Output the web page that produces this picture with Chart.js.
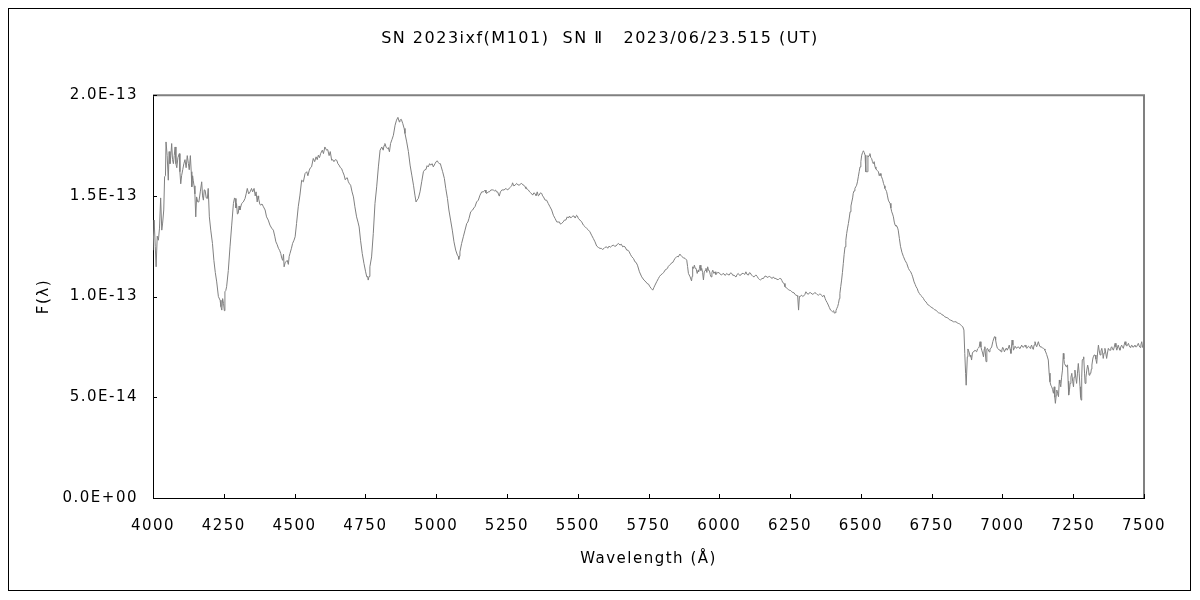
<!DOCTYPE html>
<html>
<head>
<meta charset="utf-8">
<script src="https://cdn.jsdelivr.net/npm/chart.js@4"></script>
<style>
html,body{margin:0;padding:0;background:#fff;}
#wrap{width:1200px;height:600px;}
</style>
</head>
<body>
<div id="wrap"><canvas id="c" width="1200" height="600"></canvas></div>
<script>
// ---- data (flux in units of 1E-13) ----
const chartTitle = 'SN 2023ixf(M101)  SN \u2161   2023/06/23.515 (UT)';
const xTitle = 'Wavelength (\u00C5)';
const yTitle = 'F(\u03BB)';
const xRange = [4000, 7500];
const xStep = 250;
const yRange = [0, 2.0e-13];
const yStep = 5.0e-14;
const fluxUnit = 1e-13;

const specBlue = [
[4000,1.23],[4004,1.38],[4008,1.25],[4011,1.148],[4015,1.30],[4019,1.28],[4023,1.34],[4027,1.49],[4031,1.33],[4034,1.365],
[4038,1.43],[4041,1.595],[4044,1.60],[4046,1.768],[4050,1.70],[4054,1.578],[4057,1.72],[4060,1.66],[4063,1.70],[4066,1.76],
[4069,1.68],[4072,1.66],[4075,1.70],[4078,1.743],[4081,1.66],[4084,1.64],[4088,1.69],[4093,1.71],[4095,1.62],[4098,1.56],
[4101,1.60],[4105,1.63],[4109,1.66],[4113,1.68],[4117,1.64],[4121,1.70],[4125,1.66],[4128,1.63],[4132,1.70],[4135,1.62],
[4137,1.545],[4140,1.60],[4142,1.578],[4145,1.55],[4148,1.51],[4151,1.396],[4154,1.495],[4158,1.47],[4162,1.47],[4167,1.52],
[4172,1.57],[4175,1.50],[4178,1.479],[4181,1.53],[4184,1.528],[4188,1.49],[4192,1.487],[4195,1.537],[4199,1.396],[4204,1.33],
[4210,1.264],[4215,1.18],[4220,1.12],[4225,1.073],[4231,1.00],[4237,0.982],[4240,0.95],[4243,0.933],[4246,0.99],[4249,0.966],
[4252,0.93],[4254,1.024],[4257,1.03],[4260,1.049],[4266,1.13],[4272,1.247],[4278,1.355],[4284,1.462],[4288,1.49],[4290,1.487],
[4293,1.44],[4295,1.462],[4298,1.41],[4301,1.413],[4304,1.45],[4307,1.43],[4313,1.462],[4319,1.47],[4325,1.487],[4329,1.51],
[4333,1.537],[4338,1.51],[4343,1.52],[4348,1.537],[4352,1.52],[4357,1.537],[4361,1.50],[4364,1.52],[4368,1.47],[4371,1.50],
[4373,1.487],[4377,1.46],[4380,1.454],[4385,1.46],[4390,1.446],[4396,1.43],[4401,1.396],[4407,1.38],[4413,1.355],[4419,1.34],
[4425,1.33],[4430,1.30],[4434,1.272],[4438,1.26],[4443,1.24],[4447,1.23],[4451,1.215],[4455,1.19],[4458,1.18],[4461,1.21],
[4463,1.148],[4467,1.17],[4470,1.173],[4474,1.18],[4478,1.16],[4481,1.20],[4484,1.215],[4489,1.24],[4493,1.264],[4498,1.28],
[4502,1.297],[4507,1.363],[4513,1.446],[4519,1.504],[4525,1.578],[4531,1.57],[4537,1.611],[4543,1.62],[4547,1.60],[4552,1.628],
[4556,1.64],[4560,1.644],[4566,1.686],[4571,1.67],[4576,1.694],[4580,1.68],[4584,1.702],[4588,1.69],[4592,1.71],[4598,1.727],
[4602,1.71],[4607,1.743],[4613,1.727],[4617,1.73],[4622,1.70],[4626,1.72],[4631,1.677],[4635,1.68],[4639,1.67],[4644,1.68],
[4649,1.677],[4653,1.66],[4657,1.653],[4662,1.64],[4666,1.636],[4670,1.62],[4675,1.603],[4679,1.58],[4682,1.587],[4686,1.59],
[4690,1.57],[4694,1.56],[4698,1.553],[4703,1.52],[4708,1.495],[4713,1.446],[4719,1.396],[4724,1.37],[4728,1.346],[4733,1.28],
[4739,1.214],[4745,1.165],[4751,1.123],[4755,1.098],[4758,1.10],[4760,1.082],[4763,1.10],[4766,1.148],[4772,1.197],[4778,1.314],
[4784,1.462],[4790,1.545],[4796,1.644],[4802,1.727],[4808,1.743],[4813,1.727],[4816,1.75],[4819,1.76],[4824,1.74],[4828,1.735],
[4831,1.74],[4835,1.719],[4839,1.76],[4844,1.78],[4849,1.801],[4855,1.851],[4860,1.876],[4865,1.89],[4870,1.867]
];

const specGreen = [
[4872,1.876],[4877,1.88],[4882,1.86],[4887,1.835],[4890,1.81],[4896,1.768],[4902,1.72],[4908,1.653],[4914,1.603],[4920,1.553],
[4925,1.504],[4929,1.47],[4933,1.48],[4937,1.487],[4943,1.52],[4949,1.57],[4955,1.62],[4960,1.63],[4964,1.631],[4968,1.65],
[4972,1.644],[4977,1.66],[4981,1.653],[4986,1.66],[4990,1.644],[4996,1.66],[5000,1.67],[5004,1.674],[5008,1.665],[5011,1.66],
[5015,1.66],[5018,1.644],[5023,1.62],[5029,1.587],[5034,1.537],[5040,1.487],[5045,1.43],[5051,1.38],[5057,1.33],[5063,1.272],
[5069,1.231],[5075,1.206],[5078,1.20],[5080,1.185],[5082,1.20],[5084,1.222],[5090,1.264],[5096,1.297],[5102,1.33],[5108,1.363],
[5112,1.37],[5116,1.388],[5122,1.421],[5129,1.43],[5133,1.44],[5137,1.446],[5143,1.47],[5149,1.479],[5155,1.504],[5161,1.52],
[5167,1.52],[5173,1.529],[5176,1.515],[5179,1.512],[5184,1.52],[5188,1.52],[5193,1.529],[5198,1.53],[5202,1.529],[5206,1.525],
[5210,1.529],[5213,1.52],[5217,1.52],[5223,1.499],[5227,1.52],[5232,1.529],[5236,1.53],[5240,1.529],[5244,1.535],[5247,1.537],
[5251,1.53],[5255,1.532],[5259,1.54],[5263,1.545],[5267,1.55],[5270,1.565],[5274,1.55],[5279,1.553],[5284,1.562],[5289,1.555],
[5294,1.553],[5298,1.56],[5302,1.562],[5306,1.555],[5310,1.553],[5314,1.545],[5317,1.537],[5321,1.535],[5326,1.529],[5330,1.52],
[5334,1.515],[5338,1.51],[5341,1.504],[5345,1.515],[5349,1.512],[5353,1.50],[5357,1.52],[5361,1.50],[5364,1.504],[5368,1.515],
[5373,1.512],[5376,1.50],[5379,1.495],[5385,1.479],[5390,1.479],[5396,1.462],[5402,1.446],[5408,1.43],[5414,1.404],[5420,1.388],
[5426,1.371],[5431,1.37],[5435,1.371],[5439,1.36],[5443,1.363],[5449,1.371],[5453,1.38],[5458,1.38],[5463,1.396],[5467,1.39],
[5471,1.40],[5475,1.39],[5479,1.396],[5483,1.40],[5487,1.40],[5491,1.39],[5496,1.404],[5499,1.40],[5502,1.388],[5508,1.38],
[5514,1.371],[5520,1.355],[5526,1.347],[5532,1.338],[5538,1.33],[5543,1.322],[5549,1.305],[5555,1.289],[5561,1.272],[5567,1.251],
[5573,1.244],[5579,1.239],[5583,1.24],[5587,1.234],[5593,1.239],[5597,1.245],[5602,1.247],[5606,1.24],[5611,1.251],[5615,1.245],
[5620,1.251],[5626,1.256],[5630,1.25],[5635,1.251],[5640,1.26],[5644,1.264],[5649,1.256],[5654,1.26],[5659,1.247],[5663,1.25],
[5667,1.247],[5673,1.231],[5678,1.23],[5682,1.222],[5686,1.21],[5691,1.198],[5697,1.189],[5702,1.173],[5706,1.17],[5711,1.156],
[5718,1.123],[5726,1.098],[5734,1.082],[5741,1.073],[5745,1.065],[5750,1.062]
];

const specYellow = [
[5755,1.049],[5760,1.04],[5765,1.032],[5769,1.045],[5773,1.057],[5779,1.074],[5785,1.09],[5789,1.10],[5793,1.107],[5800,1.115],
[5804,1.12],[5808,1.131],[5812,1.135],[5817,1.14],[5820,1.15],[5824,1.156],[5828,1.16],[5832,1.168],[5836,1.17],[5840,1.181],
[5844,1.19],[5847,1.19],[5851,1.20],[5855,1.197],[5861,1.211],[5864,1.205],[5867,1.20],[5873,1.193],[5879,1.19],[5885,1.181],
[5888,1.15],[5891,1.115],[5897,1.098],[5902,1.078],[5904,1.10],[5906,1.148],[5909,1.14],[5912,1.156],[5915,1.14],[5918,1.14],
[5922,1.115],[5925,1.13],[5927,1.123],[5930,1.14],[5932,1.156],[5935,1.13],[5938,1.14],[5941,1.12],[5944,1.083],[5947,1.123],
[5950,1.13],[5953,1.14],[5956,1.12],[5959,1.148],[5962,1.13],[5965,1.129],[5968,1.11],[5971,1.098],[5974,1.12],[5977,1.131],
[5981,1.115],[5985,1.123],[5988,1.11],[5991,1.115],[5995,1.12],[6000,1.118],[6004,1.11],[6008,1.107],[6013,1.115],[6017,1.112],
[6021,1.105],[6026,1.115],[6030,1.11],[6035,1.107],[6040,1.118],[6044,1.115],[6048,1.105],[6052,1.107],[6056,1.10],[6059,1.098],
[6063,1.11],[6067,1.115],[6072,1.105],[6076,1.107],[6080,1.115],[6085,1.115],[6090,1.11],[6094,1.123],[6098,1.11],[6103,1.107],
[6106,1.118],[6109,1.118],[6114,1.107],[6119,1.10],[6123,1.098],[6127,1.105],[6130,1.107],[6134,1.10],[6138,1.09],[6142,1.085],
[6146,1.083],[6151,1.09],[6156,1.09],[6160,1.10],[6165,1.102],[6169,1.095],[6173,1.098],[6178,1.10],[6182,1.095],[6187,1.09],
[6191,1.098],[6195,1.09],[6200,1.09],[6204,1.085],[6209,1.085],[6213,1.09],[6217,1.09],[6221,1.08],[6224,1.07],[6229,1.065],
[6232,1.049],[6236,1.045],[6240,1.04],[6244,1.035],[6247,1.032],[6252,1.03],[6256,1.024],[6260,1.02],[6264,1.019],[6268,1.01],
[6271,1.007],[6275,1.005],[6277,1.00],[6280,0.933],[6283,1.00],[6285,0.999],[6288,1.005],[6291,1.007],[6295,1.00],[6297,1.002],
[6302,1.01],[6306,1.024],[6310,1.015],[6315,1.012],[6319,1.02],[6323,1.019],[6328,1.012],[6332,1.012],[6337,1.02],[6342,1.016],
[6346,1.01],[6350,1.007],[6354,1.012],[6358,1.012],[6362,1.005],[6365,0.999],[6368,1.005],[6370,1.007],[6374,0.99],[6377,0.98],
[6381,0.97],[6385,0.958],[6389,0.945],[6393,0.933],[6396,0.93],[6400,0.925],[6404,0.93],[6406,0.918],[6409,0.92],[6412,0.93],
[6415,0.941],[6418,0.95],[6421,0.966],[6424,0.99],[6426,1.016],[6429,1.05],[6432,1.082],[6435,1.12],[6438,1.165],[6441,1.21],
[6444,1.247],[6447,1.28],[6450,1.314],[6453,1.34],[6456,1.363],[6459,1.39],[6462,1.421],[6465,1.45],[6468,1.47],[6471,1.49],
[6473,1.512],[6476,1.525],[6479,1.537],[6482,1.545],[6485,1.553],[6488,1.57],[6491,1.595],[6494,1.62],[6497,1.644],[6500,1.67],
[6503,1.702],[6506,1.715],[6509,1.724],[6512,1.715],[6515,1.702],[6517,1.70],[6518,1.62],[6521,1.62],[6523,1.62],[6525,1.70],
[6526,1.694],[6529,1.70],[6532,1.71],[6535,1.69],[6538,1.686],[6541,1.67],[6544,1.66],[6547,1.67],[6550,1.644],[6553,1.635],
[6556,1.628],[6559,1.625],[6562,1.62],[6565,1.60],[6568,1.611],[6571,1.60],[6573,1.595],[6577,1.58],[6580,1.562],[6583,1.55],
[6585,1.537],[6588,1.53],[6591,1.521],[6594,1.50],[6597,1.479],[6600,1.47],[6603,1.463],[6606,1.44],[6609,1.421],[6612,1.41],
[6615,1.396],[6618,1.37],[6621,1.355],[6624,1.35],[6627,1.35],[6630,1.34],[6632,1.33],[6636,1.289],[6640,1.25],[6645,1.22],
[6650,1.20],[6656,1.18]
];

const specRed = [
[6662,1.165],[6668,1.14],[6672,1.13],[6676,1.123],[6680,1.11],[6683,1.098],[6688,1.073],[6692,1.06],[6695,1.049],[6699,1.04],
[6703,1.024],[6707,1.015],[6711,1.007],[6716,1.00],[6721,0.991],[6725,0.98],[6730,0.974],[6734,0.965],[6738,0.958],[6742,0.955],
[6747,0.949],[6751,0.945],[6756,0.941],[6760,0.935],[6765,0.933],[6770,0.925],[6774,0.92],[6778,0.918],[6782,0.917],[6786,0.91],
[6791,0.908],[6796,0.90],[6801,0.897],[6805,0.895],[6809,0.892],[6813,0.885],[6817,0.883],[6822,0.88],[6827,0.875],[6831,0.875],
[6836,0.875],[6840,0.87],[6844,0.867],[6848,0.865],[6853,0.859],[6856,0.855],[6860,0.85],[6864,0.834],[6867,0.718],[6870,0.618],
[6872,0.56],[6874,0.56],[6876,0.701],[6878,0.74],[6880,0.734],[6883,0.72],[6886,0.701],[6888,0.71],[6891,0.685],[6894,0.72],
[6897,0.726],[6900,0.73],[6903,0.734],[6906,0.73],[6909,0.726],[6912,0.74],[6915,0.744],[6918,0.75],[6921,0.776],[6924,0.75],
[6927,0.734],[6930,0.72],[6933,0.701],[6936,0.74],[6938,0.751],[6942,0.677],[6945,0.74],[6947,0.743],[6950,0.735],[6953,0.726],
[6956,0.74],[6959,0.743],[6962,0.75],[6966,0.776],[6969,0.79],[6972,0.801],[6974,0.80],[6976,0.784],[6979,0.76],[6982,0.744],
[6986,0.74],[6989,0.734],[6992,0.735],[6995,0.726],[6998,0.735],[7001,0.748],[7004,0.74],[7007,0.726],[7010,0.735],[7013,0.743],
[7015,0.74],[7017,0.734],[7021,0.745],[7024,0.759],[7027,0.74],[7030,0.718],[7032,0.75],[7034,0.784],[7037,0.76],[7039,0.734],
[7042,0.745],[7044,0.754],[7047,0.75],[7050,0.743],[7053,0.748],[7056,0.751],[7059,0.745],[7062,0.743],[7065,0.75],[7068,0.759],
[7071,0.75],[7074,0.748],[7077,0.755],[7080,0.759],[7083,0.75],[7086,0.743],[7089,0.75],[7092,0.754],[7095,0.748],[7098,0.743],
[7100,0.75],[7103,0.759],[7106,0.745],[7109,0.738],[7112,0.76],[7115,0.776],[7118,0.76],[7121,0.751],[7124,0.765],[7127,0.776],
[7130,0.76],[7133,0.751],[7136,0.75],[7139,0.748],[7142,0.745],[7145,0.743],[7148,0.74],[7150,0.734],[7153,0.725],[7156,0.713],
[7159,0.70],[7162,0.685],[7165,0.62],[7168,0.577],[7171,0.56],[7174,0.552],[7177,0.54],[7180,0.52],[7183,0.552],[7185,0.50],
[7187,0.47],[7190,0.51],[7192,0.536],[7195,0.52],[7198,0.503],[7201,0.586],[7203,0.57],[7206,0.552],[7209,0.60],[7212,0.635],
[7215,0.718],[7217,0.69],[7219,0.668],[7222,0.66],[7225,0.652],[7228,0.66],[7230,0.66],[7232,0.58],[7234,0.511],[7237,0.54],
[7239,0.569],[7242,0.60],[7245,0.619],[7248,0.58],[7251,0.552],[7253,0.60],[7256,0.635],[7259,0.60],[7262,0.569],[7265,0.62],
[7268,0.668],[7271,0.62],[7274,0.552],[7276,0.50],[7278,0.486],[7280,0.60],[7282,0.685],[7285,0.69],[7287,0.701],[7290,0.62],
[7292,0.569],[7295,0.60],[7298,0.635],[7301,0.66],[7304,0.64],[7306,0.61],[7309,0.62],[7312,0.619],[7314,0.64],[7316,0.66],
[7319,0.69],[7321,0.701],[7324,0.71],[7327,0.71],[7330,0.69],[7333,0.668],[7336,0.72],[7339,0.759],[7342,0.73],[7345,0.71],
[7348,0.73],[7351,0.743],[7354,0.72],[7356,0.693],[7359,0.72],[7362,0.743],[7365,0.72],[7368,0.693],[7371,0.72],[7374,0.743],
[7377,0.735],[7380,0.734],[7383,0.745],[7386,0.751],[7389,0.74],[7392,0.734],[7395,0.75],[7398,0.768],[7401,0.75],[7404,0.734],
[7407,0.75],[7409,0.759],[7412,0.745],[7415,0.734],[7418,0.75],[7421,0.759],[7424,0.75],[7427,0.743],[7430,0.76],[7433,0.776],
[7436,0.76],[7439,0.754],[7442,0.76],[7445,0.768],[7448,0.755],[7451,0.748],[7454,0.755],[7457,0.759],[7460,0.75],[7462,0.748],
[7465,0.755],[7468,0.759],[7471,0.75],[7474,0.751],[7477,0.76],[7480,0.768],[7483,0.755],[7486,0.748],[7489,0.76],[7492,0.776],
[7495,0.75],[7498,0.743],[7500,0.745]
];

// ---- build ----
const spectrum = specBlue.concat(specGreen, specYellow, specRed)
  .map(p => ({x: p[0], y: p[1] * fluxUnit}));

const FONT = '"DejaVu Sans", "Liberation Sans", "Noto Sans CJK JP", sans-serif';
const baseFont = {family: FONT, size: 15, weight: 'normal'};
const titleFont = {family: FONT, size: 16, weight: 'normal'};

function fmtExp(v){
  let s = Number(v).toExponential(1).toUpperCase();
  const m = s.match(/^(-?[\d.]+)E([+-])(\d+)$/);
  if (!m) return s;
  return m[1] + 'E' + m[2] + (m[3].length < 2 ? '0' + m[3] : m[3]);
}

const decorPlugin = {
  id: 'decor',
  beforeDraw(chart){
    const ctx = chart.ctx;
    ctx.save();
    ctx.fillStyle = '#fff';
    ctx.fillRect(0, 0, chart.width, chart.height);
    ctx.restore();
    try { ctx.letterSpacing = '1.5px'; } catch(e){}
  },
  afterDraw(chart){
    const ctx = chart.ctx;
    const a = chart.chartArea;
    const xs = chart.scales.x, ys = chart.scales.y;
    ctx.save();
    // outer frame
    ctx.strokeStyle = '#000';
    ctx.lineWidth = 1;
    ctx.strokeRect(8.5, 8.5, chart.width - 18, chart.height - 18);
    // top and right plot border (gray)
    ctx.strokeStyle = '#808080';
    ctx.lineWidth = 2;
    ctx.beginPath();
    ctx.moveTo(a.left, a.top);
    ctx.lineTo(a.right, a.top);
    ctx.lineTo(a.right, a.bottom);
    ctx.stroke();
    // inward tick marks
    ctx.strokeStyle = '#000';
    ctx.lineWidth = 1;
    ctx.beginPath();
    xs.ticks.forEach(t => {
      const px = Math.round(xs.getPixelForValue(t.value)) + 0.5;
      ctx.moveTo(px, a.bottom);
      ctx.lineTo(px, a.bottom - 4);
    });
    ys.ticks.forEach(t => {
      const py = Math.round(ys.getPixelForValue(t.value)) + 0.5;
      ctx.moveTo(a.left, py);
      ctx.lineTo(a.left + 4, py);
    });
    ctx.stroke();
    ctx.restore();
  }
};

new Chart(document.getElementById('c'), {
  type: 'line',
  data: {
    datasets: [{
      label: 'F',
      data: spectrum,
      yAxisID: 'y',
      borderColor: '#808080',
      borderWidth: 1,
      pointRadius: 0,
      tension: 0,
      fill: false
    }]
  },
  options: {
    responsive: false,
    animation: false,
    devicePixelRatio: 1,
    parsing: true,
    layout: {padding: {left: 0, right: 0, top: 0, bottom: 0}},
    plugins: {
      legend: {display: false},
      tooltip: {enabled: false},
      title: {
        display: true,
        text: chartTitle,
        color: '#000',
        font: titleFont,
        padding: {top: 29, bottom: 47}
      }
    },
    scales: {
      x: {
        type: 'linear',
        min: xRange[0], max: xRange[1],
        grid: {display: true, drawOnChartArea: false, drawTicks: false},
        border: {display: true, color: '#000', width: 1},
        ticks: {stepSize: xStep, color: '#000', font: baseFont, padding: 19, maxRotation: 0, autoSkip: false,
                callback: v => String(v)},
        title: {display: true, text: xTitle, color: '#000', font: baseFont, padding: {top: 0, bottom: 32}},
        afterFit: s => { s.height = 102; }
      },
      y: {
        type: 'linear',
        position: 'left',
        min: yRange[0], max: yRange[1],
        grid: {display: true, drawOnChartArea: false, drawTicks: false},
        border: {display: true, color: '#000', width: 1},
        ticks: {stepSize: yStep, color: '#000', font: baseFont, padding: 15, callback: v => fmtExp(v)},
        title: {display: true, text: yTitle, color: '#000', font: baseFont, padding: {top: 35, bottom: 0}},
        afterFit: s => { s.width = 153; }
      },
      yRight: {
        type: 'linear',
        position: 'right',
        display: true,
        min: yRange[0], max: yRange[1],
        grid: {display: false, drawOnChartArea: false, drawTicks: false},
        border: {display: false},
        ticks: {display: false},
        afterFit: s => { s.width = 56; }
      }
    }
  },
  plugins: [decorPlugin]
});
</script>
</body>
</html>
